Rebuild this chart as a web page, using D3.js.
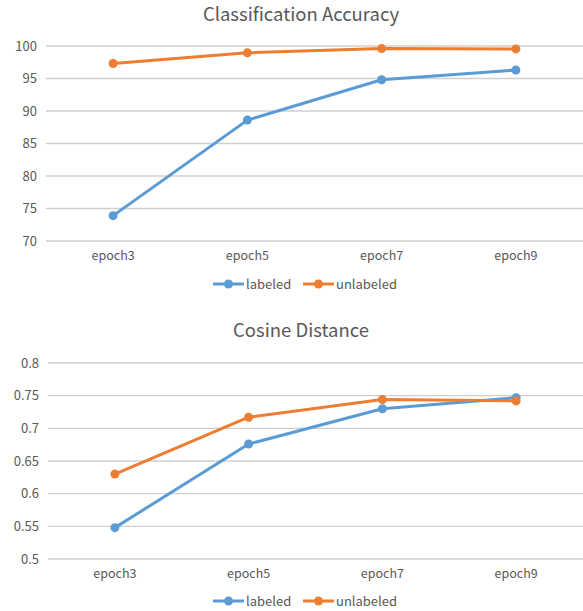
<!DOCTYPE html>
<html>
<head>
<meta charset="utf-8">
<script src="https://cdn.jsdelivr.net/npm/d3@7/dist/d3.min.js"></script>
<style>
  html, body { margin: 0; padding: 0; background: #fff; }
  svg { display: block; }
  text { font-family: "Noto Sans CJK SC", "Noto Sans", sans-serif; fill: #595959; }
</style>
</head>
<body>
<svg id="chart" width="583" height="611"></svg>
<script>
// Categories shared by both panels
const epochs = ["epoch3", "epoch5", "epoch7", "epoch9"];
const seriesNames = ["labeled", "unlabeled"];
const seriesColors = ["#5B9BD5", "#ED7D31"];

// Classification accuracy (%)
const accLabeled = [73.9, 88.6, 94.8, 96.3];
const accUnlabeled = [97.3, 98.95, 99.6, 99.55];
const accTicks = [70, 75, 80, 85, 90, 95, 100];
const accTickLabels = ["70", "75", "80", "85", "90", "95", "100"];

// Cosine distance
const cosLabeled = [0.548, 0.676, 0.730, 0.747];
const cosUnlabeled = [0.630, 0.717, 0.744, 0.742];
const cosTicks = [0.5, 0.55, 0.6, 0.65, 0.7, 0.75, 0.8];
const cosTickLabels = ["0.5", "0.55", "0.6", "0.65", "0.7", "0.75", "0.8"];

const svg = d3.select("#chart");

function panel(opts) {
  const g = svg.append("g");
  const x = d3.scalePoint().domain(epochs).range([opts.left, 583]).padding(0.5);
  const y = d3.scaleLinear().domain(opts.domain).range([opts.bottom, opts.top]);

  // title
  g.append("text")
    .attr("x", 301).attr("y", opts.titleY)
    .attr("text-anchor", "middle")
    .style("font-size", "18.5px")
    .text(opts.title);

  // horizontal gridlines
  g.append("g").selectAll("line").data(opts.ticks).join("line")
    .attr("x1", opts.left).attr("x2", 583)
    .attr("y1", d => y(d)).attr("y2", d => y(d))
    .attr("stroke", "#cfcfcf").attr("stroke-width", 1.3);

  // y tick labels
  g.append("g").selectAll("text").data(opts.ticks).join("text")
    .attr("x", opts.left - 9).attr("y", d => y(d) + 4.5)
    .attr("text-anchor", "end")
    .style("font-size", "13px")
    .text((d, i) => opts.tickLabels[i]);

  // x category labels
  g.append("g").selectAll("text").data(epochs).join("text")
    .attr("x", d => x(d)).attr("y", opts.bottom + 19)
    .attr("text-anchor", "middle")
    .style("font-size", "12.5px")
    .text(d => d);

  // series
  const line = d3.line().x((d, i) => x(epochs[i])).y(d => y(d));
  opts.series.forEach((vals, si) => {
    const sg = g.append("g");
    sg.append("path").datum(vals)
      .attr("d", line)
      .attr("fill", "none")
      .attr("stroke", seriesColors[si])
      .attr("stroke-width", 3)
      .attr("stroke-linejoin", "round")
      .attr("stroke-linecap", "round");
    sg.selectAll("circle").data(vals).join("circle")
      .attr("cx", (d, i) => x(epochs[i]))
      .attr("cy", d => y(d))
      .attr("r", 4.5)
      .attr("fill", seriesColors[si]);
  });

  // legend
  const lg = g.append("g").attr("transform", `translate(0,${opts.legendY})`);
  const legendX = [213, 303];
  seriesNames.forEach((name, si) => {
    const lx = legendX[si];
    lg.append("line")
      .attr("x1", lx).attr("x2", lx + 31).attr("y1", 0).attr("y2", 0)
      .attr("stroke", seriesColors[si]).attr("stroke-width", 3);
    lg.append("circle").attr("cx", lx + 15.5).attr("cy", 0).attr("r", 4.5)
      .attr("fill", seriesColors[si]);
    lg.append("text").attr("x", lx + 33).attr("y", 4.5)
      .style("font-size", "13px")
      .text(name);
  });
}

panel({
  title: "Classification Accuracy", titleY: 21,
  left: 46, top: 46, bottom: 241,
  domain: [70, 100], ticks: accTicks, tickLabels: accTickLabels,
  series: [accLabeled, accUnlabeled], legendY: 284
});

panel({
  title: "Cosine Distance", titleY: 337,
  left: 48, top: 363, bottom: 559,
  domain: [0.5, 0.8], ticks: cosTicks, tickLabels: cosTickLabels,
  series: [cosLabeled, cosUnlabeled], legendY: 601
});
</script>
</body>
</html>
